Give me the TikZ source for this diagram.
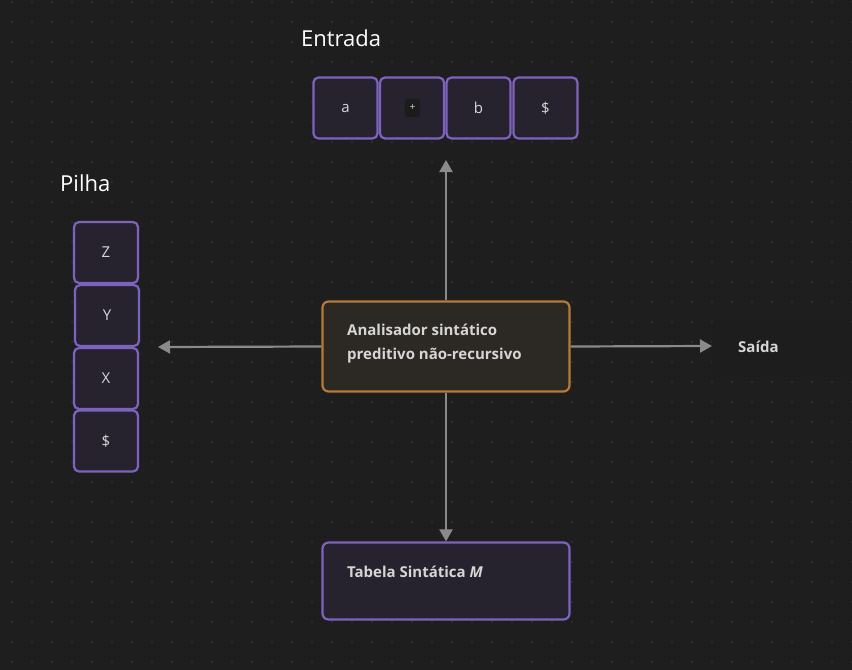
\documentclass[tikz,border=0pt]{standalone}
\usepackage{fontspec}
\setmainfont{Open Sans}
\usetikzlibrary{arrows.meta}
\definecolor{bg}{HTML}{1E1E1E}
\definecolor{dotc}{HTML}{2C2C2C}
\definecolor{purp}{HTML}{7E62C2}
\definecolor{cellfill}{HTML}{26232F}
\definecolor{orng}{HTML}{B67A36}
\definecolor{mainfill}{HTML}{2C2823}
\definecolor{arrc}{HTML}{8A8A8A}
\definecolor{txt}{HTML}{D6D6D6}
\definecolor{codebg}{HTML}{1C1C1C}
\definecolor{sfill}{HTML}{1D1D1D}
\tikzset{
  cell/.style={draw=purp, line width=2.2bp, fill=cellfill, rounded corners=5bp,
    minimum width=64bp, minimum height=61bp, inner sep=0pt, text=txt,
    font=\fontsize{15bp}{17bp}\selectfont},
  bigbox/.style={line width=2.2bp, rounded corners=6bp, inner sep=0pt, minimum width=247bp},
  lbl/.style={text=white, font=\fontsize{22bp}{26bp}\selectfont, anchor=west, inner sep=0pt},
  btxt/.style={text=txt, font=\bfseries\fontsize{15bp}{24bp}\selectfont, anchor=west, inner sep=0pt, align=left},
  arr/.style={draw=arrc, line width=2.2bp, -{Triangle[length=12bp,width=13bp]}}
}
\begin{document}
\begin{tikzpicture}[x=1bp,y=-1bp]
\fill[bg] (0,0) rectangle (852,670);
\useasboundingbox (0,0) rectangle (852,670);
\foreach \i in {0,...,42} {\foreach \j in {0,...,33} {
  \fill[dotc] (12+20*\i-0.9,2+20*\j-0.9) rectangle ++(1.8,1.8);}}
% labels
\node[lbl] (entrada) at (301,38) {Entrada};
\node[lbl] (pilha) at (60,183) {Pilha};
% input cells
\node[cell] (ia) at (345.5,108) {a};
\node[cell] (ip) at (412,108) {};
\fill[codebg, rounded corners=2bp] (405,99) rectangle (420,117);
\node[text=txt, font=\fontsize{10bp}{11bp}\selectfont, inner sep=0pt] (plus) at (412.5,108) {+};
\node[cell] (ib) at (478.5,108) {b};
\node[cell] (id) at (545.5,108) {\$};
% stack cells
\node[cell] (sz) at (106,252.5) {Z};
\node[cell] (sy) at (107,315.5) {Y};
\node[cell] (sx) at (106,378.5) {X};
\node[cell] (sd) at (106,441) {\$};
% main box
\node[bigbox, draw=orng, fill=mainfill, minimum height=90bp] (main) at (446,346.5) {};
\node[btxt] (maintxt) at (347,343.5) {Analisador sintático\\preditivo não-recursivo};
% table box
\node[bigbox, draw=purp, fill=cellfill, minimum height=77bp] (tab) at (446,581) {};
\node[btxt] (tabtxt) at (347,572) {Tabela Sintática \textit{M}};
% saida
\fill[sfill, rounded corners=6bp] (712,320) rectangle (852,376);
\node[btxt] (saida) at (738,347) {Saída};
\coordinate (up) at (446,160);
\coordinate (left) at (158,347);
\coordinate (right) at (712,346);
% arrows
\draw[arr] (main.north) -- (up);
\draw[arr] (main.west) -- (left);
\draw[arr] (main.east) -- (right);
\draw[arr] (main.south) -- (tab.north);
\end{tikzpicture}
\end{document}
